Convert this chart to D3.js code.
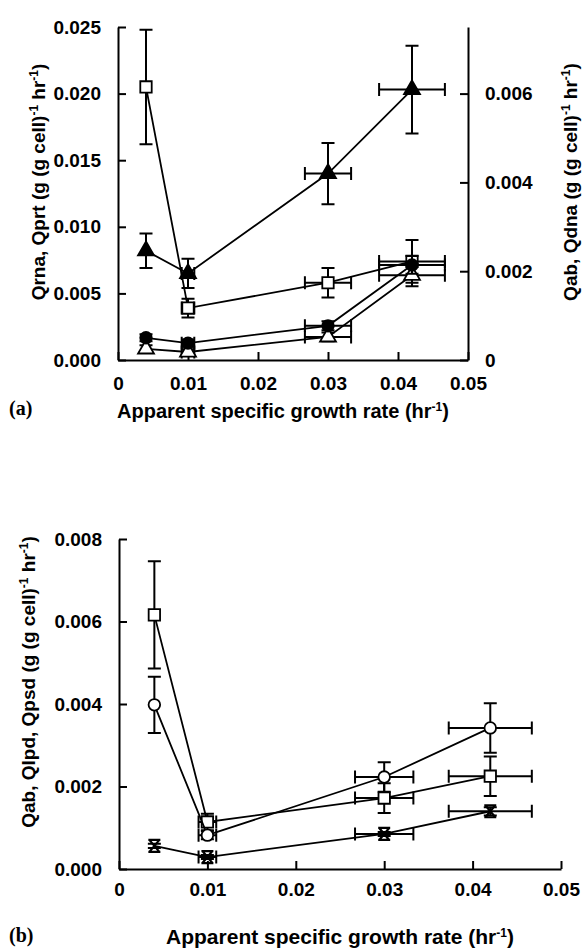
<!DOCTYPE html>
<html>
<head>
<meta charset="utf-8">
<script src="https://cdn.jsdelivr.net/npm/d3@7"></script>
<style>
  html, body { margin: 0; padding: 0; background: #fff; }
  svg { display: block; }
  .tick text { font-family: "Liberation Sans", Arial, sans-serif; font-weight: bold; font-size: 19px; fill: #000; }
  .title { font-family: "Liberation Sans", Arial, sans-serif; font-weight: bold; font-size: 19px; fill: #000; }
  .xtitle { font-size: 20px; }
  .panel { font-family: "Liberation Serif", "Times New Roman", serif; font-weight: bold; font-size: 20px; fill: #000; }
</style>
</head>
<body>
<svg id="chart" width="584" height="949"></svg>
<script>
// Specific growth rates at which the rates were measured (hr^-1)
const growthRate = [0.004, 0.01, 0.03, 0.042];

// Panel (a): uncertainty in growth rate
const rateErrA = [0, 0.0009, 0.0033, 0.0047];
// Panel (a), left axis
const qrna    = [0.0205, 0.0039, 0.0058, 0.0074];
const qrnaErr = [0.0043, 0.0007, 0.0011, 0.0016];
const qprt    = [0.0082, 0.0065, 0.0140, 0.0203];
const qprtErr = [0.0013, 0.0011, 0.0023, 0.0033];
// Panel (a), right axis
const qdna    = [0.00050, 0.00038, 0.00077, 0.00214];
const qdnaErr = [0.00008, 0.00008, 0.00010, 0.00020];
const qabA    = [0.00025, 0.00018, 0.00052, 0.00191];
const qabAErr = [0.00008, 0.00006, 0.00010, 0.00025];

// Panel (b)
const rateErrB = [0, 0.001, 0.0033, 0.0047];
const qpsd    = [0.00616, 0.00114, 0.00172, 0.00225];
const qpsdErr = [0.0013, 0.0002, 0.00036, 0.00048];
const qlpd    = [0.00398, 0.00082, 0.00223, 0.00342];
const qlpdErr = [0.00068, 0.0001, 0.00036, 0.0006];
const qabB    = [0.00056, 0.00029, 0.00085, 0.0014];
const qabBErr = [0.00005, 0.00005, 0.00005, 0.0001];

// Tick values
const rateTicks   = [0, 0.01, 0.02, 0.03, 0.04, 0.05];
const leftTicksA  = [0, 0.005, 0.01, 0.015, 0.02, 0.025];
const rightTicksA = [0, 0.002, 0.004, 0.006];
const ticksB      = [0, 0.002, 0.004, 0.006, 0.008];

const svg = d3.select("#chart");

const fmtRate = d => d === 0 ? "0" : d3.format(".2f")(d);
const fmt3 = d3.format(".3f");
const fmtRight = d => d === 0 ? "0" : d3.format(".3f")(d);

function styleAxis(g) {
  g.selectAll("path.domain").attr("stroke", "#000").attr("stroke-width", 2);
  g.selectAll(".tick line").attr("stroke", "#000").attr("stroke-width", 2);
}

// Marker shapes
const sym = {
  square:   d3.symbol().type(d3.symbolSquare).size(130),
  triangle: d3.symbol().type(d3.symbolTriangle).size(110),
  circle:   d3.symbol().type(d3.symbolCircle).size(105),
};
const hourglass = "M-6,-6H6M-6,6H6M-5,-6L5,6M5,-6L-5,6";

function drawSeries(g, x, y, vals, errs, xErrs, marker) {
  const pts = growthRate.map((r, i) => ({ r, v: vals[i], e: errs[i], xe: xErrs[i] }));
  const cap = 6.5;
  // connecting line
  g.append("path")
    .datum(pts)
    .attr("fill", "none")
    .attr("stroke", "#000")
    .attr("stroke-width", 1.8)
    .attr("d", d3.line().x(d => x(d.r)).y(d => y(d.v)));
  // error bars
  const eb = g.append("g").attr("stroke", "#000").attr("stroke-width", 2).attr("fill", "none");
  pts.forEach(d => {
    const cx = x(d.r), cy = y(d.v);
    if (d.e > 0) {
      const y1 = y(d.v + d.e), y2 = y(d.v - d.e);
      eb.append("path").attr("d", `M${cx},${y1}V${y2}M${cx - cap},${y1}H${cx + cap}M${cx - cap},${y2}H${cx + cap}`);
    }
    if (d.xe > 0) {
      const x1 = x(d.r - d.xe), x2 = x(d.r + d.xe);
      eb.append("path").attr("d", `M${x1},${cy}H${x2}M${x1},${cy - cap}V${cy + cap}M${x2},${cy - cap}V${cy + cap}`);
    }
  });
  // markers
  const m = g.append("g");
  pts.forEach(d => {
    const t = `translate(${x(d.r)},${y(d.v)})`;
    if (marker === "hourglass") {
      m.append("path").attr("transform", t).attr("d", hourglass)
        .attr("fill", "none").attr("stroke", "#000").attr("stroke-width", 2.2);
    } else {
      const [shape, filled] = marker.split("-");
      m.append("path").attr("transform", t).attr("d", sym[shape]())
        .attr("fill", filled === "filled" ? "#000" : "#fff")
        .attr("stroke", "#000").attr("stroke-width", 1.8);
    }
  });
}

function supTitle(g, parts) {
  parts.forEach(p => {
    const ts = g.append("tspan").text(p.t);
    if (p.sup) ts.attr("baseline-shift", "super").attr("font-size", "12px");
  });
}

// ---------- Panel (a) ----------
const xA  = d3.scaleLinear().domain([0, 0.05]).range([118, 468]);
const yAL = d3.scaleLinear().domain([0, 0.025]).range([360, 27]);
const yAR = d3.scaleLinear().domain([0, 0.0075]).range([360, 27]);

const gA = svg.append("g");
gA.append("g").attr("transform", "translate(0,360)")
  .call(d3.axisBottom(xA).tickValues(rateTicks).tickFormat(fmtRate).tickSize(-8).tickSizeOuter(0).tickPadding(17))
  .call(styleAxis);
gA.append("g").attr("transform", "translate(118,0)")
  .call(d3.axisLeft(yAL).tickValues(leftTicksA).tickFormat(fmt3).tickSize(-8).tickSizeOuter(0).tickPadding(17))
  .call(styleAxis);
gA.append("g").attr("transform", "translate(468,0)")
  .call(d3.axisRight(yAR).tickValues(rightTicksA).tickFormat(fmtRight).tickSize(-8).tickSizeOuter(0).tickPadding(17))
  .call(styleAxis);

drawSeries(gA, xA, yAL, qrna, qrnaErr, rateErrA, "square-open");
drawSeries(gA, xA, yAL, qprt, qprtErr, rateErrA, "triangle-filled");
drawSeries(gA, xA, yAR, qabA, qabAErr, rateErrA, "triangle-open");
drawSeries(gA, xA, yAR, qdna, qdnaErr, rateErrA, "circle-filled");

gA.append("text").attr("class", "title").attr("text-anchor", "middle")
  .attr("transform", "translate(45,182) rotate(-90)")
  .call(g => supTitle(g, [{t: "Qrna, Qprt (g (g cell)"}, {t: "-1", sup: true}, {t: " hr"}, {t: "-1", sup: true}, {t: ")"}]));
gA.append("text").attr("class", "title").attr("text-anchor", "middle")
  .attr("transform", "translate(577,182) rotate(-90)")
  .call(g => supTitle(g, [{t: "Qab, Qdna (g (g cell)"}, {t: "-1", sup: true}, {t: " hr"}, {t: "-1", sup: true}, {t: ")"}]));
gA.append("text").attr("class", "title xtitle").attr("text-anchor", "middle")
  .attr("x", 283).attr("y", 418)
  .call(g => supTitle(g, [{t: "Apparent specific growth rate (hr"}, {t: "-1", sup: true}, {t: ")"}]));
gA.append("text").attr("class", "panel").attr("x", 9).attr("y", 415).text("(a)");

// ---------- Panel (b) ----------
const xB = d3.scaleLinear().domain([0, 0.05]).range([119, 561]);
const yB = d3.scaleLinear().domain([0, 0.008]).range([869, 539]);

const gB = svg.append("g");
gB.append("g").attr("transform", "translate(0,869)")
  .call(d3.axisBottom(xB).tickValues(rateTicks).tickFormat(fmtRate).tickSize(-8).tickSizeOuter(0).tickPadding(14))
  .call(styleAxis);
gB.append("g").attr("transform", "translate(119,0)")
  .call(d3.axisLeft(yB).tickValues(ticksB).tickFormat(fmt3).tickSize(-8).tickSizeOuter(0).tickPadding(17))
  .call(styleAxis);

drawSeries(gB, xB, yB, qpsd, qpsdErr, rateErrB, "square-open");
drawSeries(gB, xB, yB, qlpd, qlpdErr, rateErrB, "circle-open");
drawSeries(gB, xB, yB, qabB, qabBErr, rateErrB, "hourglass");

gB.append("text").attr("class", "title").attr("text-anchor", "middle")
  .attr("transform", "translate(35,682) rotate(-90)")
  .call(g => supTitle(g, [{t: "Qab, Qlpd, Qpsd (g (g cell)"}, {t: "-1", sup: true}, {t: " hr"}, {t: "-1", sup: true}, {t: ")"}]));
gB.append("text").attr("class", "title").attr("text-anchor", "middle")
  .style("font-size", "21px")
  .attr("x", 340).attr("y", 944)
  .call(g => supTitle(g, [{t: "Apparent specific growth rate (hr"}, {t: "-1", sup: true}, {t: ")"}]));
gB.append("text").attr("class", "panel").attr("x", 9).attr("y", 942).text("(b)");
</script>
</body>
</html>
